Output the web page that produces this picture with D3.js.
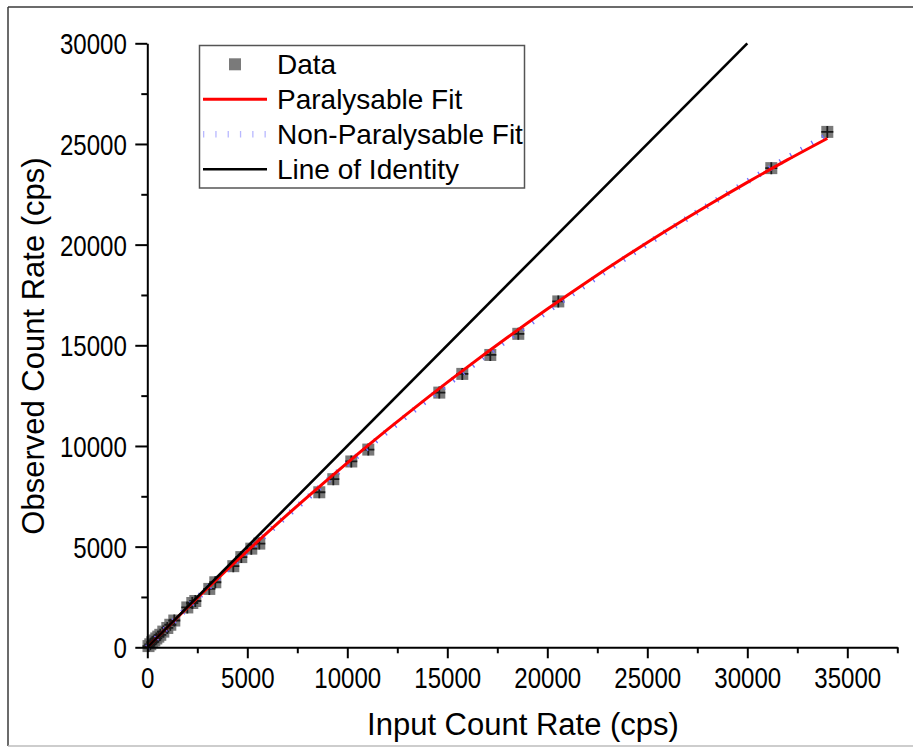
<!DOCTYPE html>
<html>
<head>
<meta charset="utf-8">
<script src="https://cdn.jsdelivr.net/npm/d3@7/dist/d3.min.js"></script>
<style>
  html, body { margin: 0; padding: 0; background: #fff; }
  svg { display: block; }
</style>
</head>
<body>
<svg id="chart" width="913" height="747"></svg>
<script>
// Measured dead-time data: input (true) count rate vs observed count rate, in cps
const inputRate = [60, 150, 250, 350, 450, 550, 650, 800, 1000, 1150, 1350,
  2000, 2250, 2400, 3100, 3400, 4300, 4700, 5200, 5600,
  8600, 9300, 10200, 11050, 14600, 15750, 17150, 18550, 20550, 31200, 34000];
const observedRate = [60, 150, 250, 340, 440, 530, 620, 780, 960, 1120, 1330,
  1980, 2200, 2300, 2900, 3230, 4030, 4480, 4900, 5150,
  7700, 8350, 9230, 9820, 12650, 13580, 14520, 15570, 17180, 23800, 25600];

// Fitted curves (paralysable and non-paralysable dead-time models)
const fitInput = [0, 2000, 4000, 6000, 8000, 10000, 12000, 14000, 16000, 18000,
  20000, 22000, 24000, 26000, 28000, 30000, 32000, 34000];
const paralysableFit = [0, 1965, 3863, 5694, 7461, 9165, 10808, 12391, 13916, 15385,
  16799, 18160, 19468, 20726, 21934, 23094, 24208, 25276];
const nonParalysableFit = [0, 1961, 3848, 5664, 7413, 9099, 10726, 12296, 13812, 15278,
  16694, 18065, 19392, 20678, 21923, 23130, 24301, 25438];

// Line of identity end points
const identityRate = [0, 30000];

// Axis ticks
const xMajorTicks = [0, 5000, 10000, 15000, 20000, 25000, 30000, 35000];
const xMinorTicks = [2500, 7500, 12500, 17500, 22500, 27500, 32500, 37500];
const yMajorTicks = [0, 5000, 10000, 15000, 20000, 25000, 30000];
const yMinorTicks = [2500, 7500, 12500, 17500, 22500, 27500];

const legendLabels = ["Data", "Paralysable Fit", "Non-Paralysable Fit", "Line of Identity"];

const svg = d3.select("#chart");
const FONT = "'Liberation Sans', Arial, Helvetica, sans-serif";

// Outer figure frame
svg.append("line").attr("x1", 8).attr("y1", 7).attr("x2", 913).attr("y2", 7)
  .attr("stroke", "#3a3a3a").attr("stroke-width", 1.5);
svg.append("line").attr("x1", 8).attr("y1", 7).attr("x2", 8).attr("y2", 746)
  .attr("stroke", "#3a3a3a").attr("stroke-width", 1.5);
svg.append("line").attr("x1", 8).attr("y1", 746).attr("x2", 913).attr("y2", 746)
  .attr("stroke", "#bdbdbd").attr("stroke-width", 1.5);

const x = d3.scaleLinear().domain([0, 37500]).range([147.3, 897.3]);
const y = d3.scaleLinear().domain([0, 30000]).range([647.3, 43.3]);

const plot = svg.append("g");

// Data markers: grey squares with a dark cross
const pts = inputRate.map((v, i) => [v, observedRate[i]]);
const mk = plot.append("g");
const ms = 12;
mk.selectAll("rect").data(pts).join("rect")
  .attr("x", d => x(d[0]) - ms / 2).attr("y", d => y(d[1]) - ms / 2)
  .attr("width", ms).attr("height", ms)
  .attr("fill", "#6a6a6a").attr("fill-opacity", 0.9);
mk.selectAll("path.cross").data(pts).join("path").attr("class", "cross")
  .attr("d", d => {
    const cx = x(d[0]), cy = y(d[1]), h = ms / 2;
    return `M${cx - h},${cy}H${cx + h}M${cx},${cy - h}V${cy + h}`;
  })
  .attr("stroke", "#1a1a1a").attr("stroke-width", 1.8).attr("fill", "none");

// Fit curves
const line = d3.line().x(d => x(d[0])).y(d => y(d[1])).curve(d3.curveMonotoneX);
plot.append("path")
  .attr("d", line(fitInput.map((v, i) => [v, nonParalysableFit[i]])))
  .attr("fill", "none").attr("stroke", "#7070ff").attr("stroke-width", 6)
  .attr("stroke-dasharray", "1.3,11");
plot.append("path")
  .attr("d", line(fitInput.map((v, i) => [v, paralysableFit[i]])))
  .attr("fill", "none").attr("stroke", "#ff0000").attr("stroke-width", 3);
plot.append("path")
  .attr("d", d3.line().x(d => x(d)).y(d => y(d))(identityRate))
  .attr("fill", "none").attr("stroke", "#000").attr("stroke-width", 2.6);

// Axes
function styleAxis(g) {
  g.selectAll("path.domain").attr("stroke", "#000").attr("stroke-width", 2);
  g.selectAll(".tick line").attr("stroke", "#000").attr("stroke-width", 2);
}
const tickScaleX = 0.83;
const gx = svg.append("g").attr("transform", `translate(0,${y(0)})`);
gx.call(d3.axisBottom(x).tickValues(xMajorTicks).tickSize(11).tickSizeOuter(0)
  .tickFormat(d3.format("d")));
gx.call(styleAxis);
gx.selectAll(".tick text")
  .attr("y", 0).attr("dy", 0)
  .attr("transform", `translate(0,41) scale(${tickScaleX},1)`)
  .attr("font-family", FONT).attr("font-size", 29).attr("fill", "#000");
const gxm = svg.append("g").attr("transform", `translate(0,${y(0)})`);
gxm.call(d3.axisBottom(x).tickValues(xMinorTicks).tickSize(6).tickSizeOuter(0).tickFormat(""));
gxm.call(styleAxis);
gxm.select("path.domain").remove();

const gy = svg.append("g").attr("transform", `translate(${x(0)},0)`);
gy.call(d3.axisLeft(y).tickValues(yMajorTicks).tickSize(12).tickSizeOuter(0)
  .tickFormat(d3.format("d")));
gy.call(styleAxis);
gy.selectAll(".tick text")
  .attr("x", 0).attr("dy", "0.36em")
  .attr("transform", `translate(-20.5,0) scale(${tickScaleX},1)`)
  .attr("font-family", FONT).attr("font-size", 29).attr("fill", "#000");
const gym = svg.append("g").attr("transform", `translate(${x(0)},0)`);
gym.call(d3.axisLeft(y).tickValues(yMinorTicks).tickSize(6).tickSizeOuter(0).tickFormat(""));
gym.call(styleAxis);
gym.select("path.domain").remove();

// Axis titles
svg.append("text").attr("x", 523).attr("y", 735).attr("text-anchor", "middle")
  .attr("font-family", FONT).attr("font-size", 31).attr("fill", "#000")
  .text("Input Count Rate (cps)");
svg.append("text").attr("transform", "translate(44,346) rotate(-90)")
  .attr("text-anchor", "middle")
  .attr("font-family", FONT).attr("font-size", 31).attr("fill", "#000")
  .text("Observed Count Rate (cps)");

// Legend
const lg = svg.append("g");
lg.append("rect").attr("x", 199.5).attr("y", 45.5).attr("width", 325).attr("height", 142.5)
  .attr("fill", "#fff").attr("stroke", "#555").attr("stroke-width", 1.5);
const rowY = [64.3, 99.3, 134.3, 169.3];
lg.append("rect").attr("x", 235 - 6).attr("y", rowY[0] - 6).attr("width", 12).attr("height", 12)
  .attr("fill", "#7a7a7a");
lg.append("line").attr("x1", 203).attr("x2", 267).attr("y1", rowY[1]).attr("y2", rowY[1])
  .attr("stroke", "#ff0000").attr("stroke-width", 3);
lg.append("line").attr("x1", 203).attr("x2", 267).attr("y1", rowY[2]).attr("y2", rowY[2])
  .attr("stroke", "#b8b8ff").attr("stroke-width", 6.5).attr("stroke-dasharray", "1.3,11");
lg.append("line").attr("x1", 203).attr("x2", 267).attr("y1", rowY[3]).attr("y2", rowY[3])
  .attr("stroke", "#000").attr("stroke-width", 2.6);
lg.selectAll("text.lab").data(legendLabels).join("text").attr("class", "lab")
  .attr("x", 277).attr("y", (d, i) => rowY[i] + 9.6)
  .attr("font-family", FONT).attr("font-size", 28).attr("fill", "#000")
  .text(d => d);
</script>
</body>
</html>
